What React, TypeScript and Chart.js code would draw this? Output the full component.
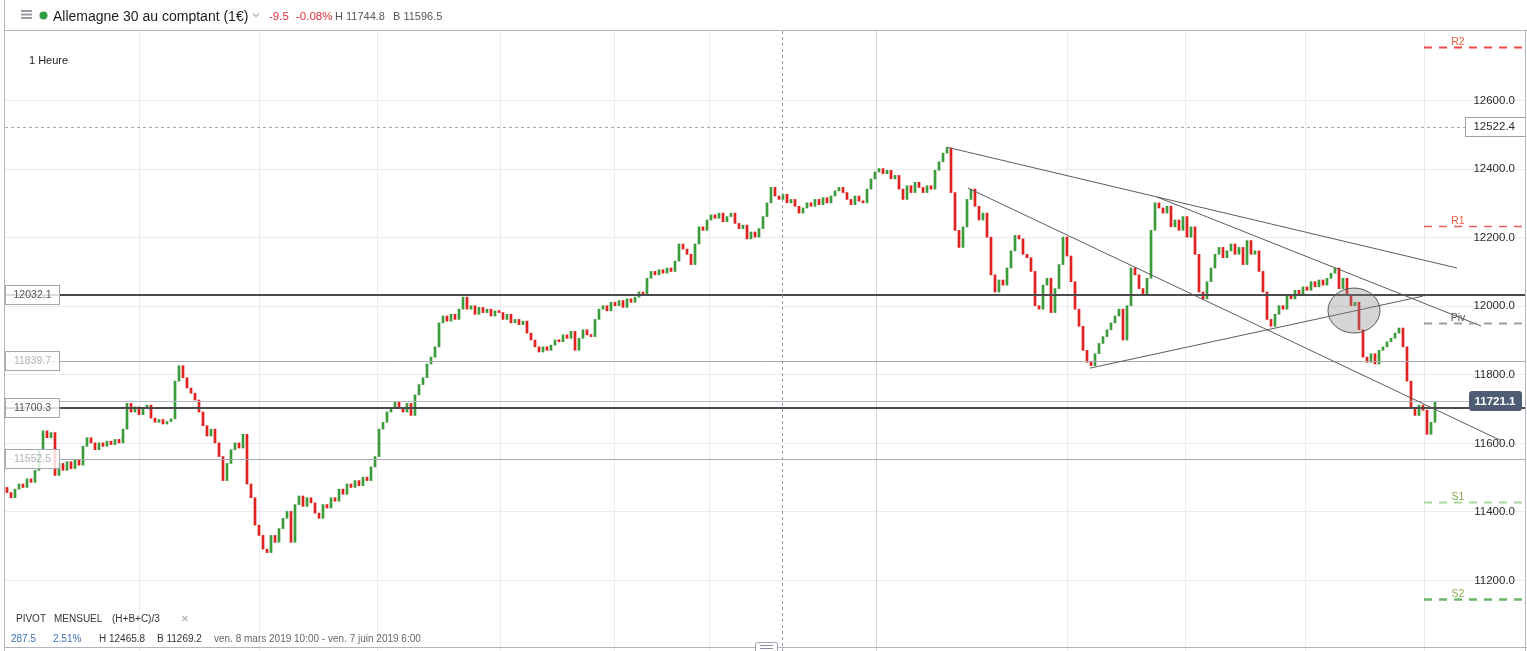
import React, { useEffect, useRef } from "react";
import { Chart, registerables } from "chart.js";

Chart.register(...registerables);

// ---------- data ----------
const firstOpen = 11470;
const closes: number[] = [
  11455, 11440, 11465, 11480, 11470, 11495, 11485, 11520, 11580, 11635,
  11615, 11630, 11505, 11540, 11520, 11545, 11525, 11550, 11535, 11590,
  11615, 11600, 11580, 11600, 11590, 11605, 11595, 11610, 11600, 11640,
  11715, 11690, 11705, 11682, 11700, 11710, 11672, 11660, 11668, 11655,
  11662, 11670, 11780, 11825, 11790, 11760, 11745, 11725, 11690, 11650,
  11620, 11640, 11600, 11560, 11490, 11540, 11580, 11600, 11585, 11625,
  11480, 11440, 11360, 11330, 11290, 11280, 11330, 11310, 11350, 11380,
  11400, 11310, 11420, 11445, 11415, 11440, 11425, 11395, 11380, 11420,
  11410, 11440, 11430, 11465, 11450, 11480, 11470, 11490, 11475, 11500,
  11490, 11530, 11560, 11640, 11660, 11690, 11700, 11720, 11700, 11690,
  11715, 11680, 11740, 11770, 11790, 11830, 11850, 11880, 11950, 11970,
  11955, 11975, 11960, 11990, 12025, 11990, 12000, 11975, 11995, 11980,
  11990, 11970, 11985, 11980, 11960, 11975, 11950, 11960, 11945, 11955,
  11920, 11900, 11880, 11865, 11880, 11870, 11885, 11900, 11895, 11915,
  11905, 11925, 11870, 11905, 11930, 11915, 11910, 11960, 11990, 12000,
  11985, 12010, 12000, 12015, 11995, 12020, 12010, 12025, 12040, 12030,
  12080, 12100, 12090, 12105, 12095, 12110, 12100, 12130, 12180, 12165,
  12150, 12120, 12180, 12230, 12220, 12250, 12265, 12255, 12270, 12245,
  12260, 12270, 12240, 12225, 12235, 12195, 12215, 12200, 12225, 12260,
  12300, 12345, 12320, 12310, 12325, 12300, 12310, 12290, 12270, 12285,
  12300, 12290, 12310, 12295, 12315, 12300, 12320, 12335, 12345, 12330,
  12310, 12295, 12320, 12305, 12300, 12340, 12370, 12390, 12400, 12385,
  12395, 12370, 12380, 12340, 12310, 12350, 12330, 12360, 12345, 12330,
  12350, 12340, 12395, 12420, 12445, 12460, 12330, 12220, 12170, 12230,
  12310, 12340, 12290, 12250, 12270, 12200, 12090, 12040, 12075, 12060,
  12110, 12160, 12205, 12195, 12150, 12140, 12100, 12000, 11990, 12060,
  12080, 11980, 12050, 12120, 12200, 12145, 12070, 11990, 11940, 11870,
  11835, 11825, 11860, 11890, 11910, 11930, 11950, 11970, 11990, 11900,
  12000, 12110, 12090, 12050, 12030, 12080, 12220, 12300, 12285, 12270,
  12290, 12230, 12250, 12220, 12260, 12200, 12230, 12150, 12040, 12020,
  12070, 12110, 12150, 12170, 12140, 12160, 12180, 12150, 12170, 12120,
  12190, 12150, 12160, 12100, 12040, 11960, 11940, 11975, 12000, 11990,
  12030, 12020, 12045, 12030, 12055, 12045, 12070, 12055, 12075, 12060,
  12080, 12095, 12110, 12050, 12080, 12030, 12000, 12010, 11930, 11850,
  11835, 11860, 11830, 11870, 11880, 11895, 11905, 11920, 11935, 11880,
  11780, 11700, 11680, 11710, 11695, 11625, 11660, 11721,
];

const priceTicks = [11200, 11400, 11600, 11800, 12000, 12200, 12400, 12600];
const timeGridIndex = [33, 63, 92.5, 123.25, 151.75, 175.5, 217.25, 265, 294.5, 324.5, 354.25];
const monthBoundaryIndex = 217.25;
const crosshairIndex = 193.75;

const levelValues = [12032.1, 11839.7, 11700.3, 11552.5];
const levelMajor = [true, false, true, false];
const lastPrice = 11721.1;
const markedPrice = 12522.4;

const pivotLabels = ["R2", "R1", "Piv", "S1", "S2"];
const pivotValues = [12755, 12233, 11950, 11428, 11145];
const pivotStartIndex = 354.25;

const trendStarts = [[234.75, 12463], [240.25, 12343], [287.5, 12317], [270.75, 11818]];
const trendEnds = [[362.5, 12110], [373.25, 11608], [368.5, 11941], [354, 12028]];

const ellipseCenter = [336.75, 11986];
const ellipseHalf = [6.5, 65.6];

const xMin = -0.5;
const xMax = 379.75;
const yMin = 11004.6;
const yMax = 12801.25;

// ---------- styles ----------
const GREEN = "#3b9c3b";
const RED = "#e3211f";
const FONT = '"Liberation Sans", Arial, sans-serif';
const pivotStyles = [
  { color: "#ee4a4a", width: 2, label: "#ef5f3f" },
  { color: "#f06262", width: 1.3, label: "#ef5f3f" },
  { color: "#9e9e9e", width: 2, label: "#555555" },
  { color: "#a9d8a1", width: 2, label: "#86a84c" },
  { color: "#6cb86c", width: 2.5, label: "#86a84c" },
];

const opens = closes.map((c, i) => (i === 0 ? firstOpen : closes[i - 1]));

const overlayPlugin = {
  id: "overlay",
  beforeDraw(chart: any) {
    const ctx = chart.ctx;
    ctx.save();
    ctx.fillStyle = "#ffffff";
    ctx.fillRect(0, 0, chart.width, chart.height);
    ctx.restore();
  },
  beforeDatasetsDraw(chart: any) {
    const { ctx, chartArea: a, scales } = chart;
    const xs = scales.x;
    const ys = scales.y;
    ctx.save();
    ctx.lineWidth = 1;
    priceTicks.forEach((v) => {
      const py = Math.round(ys.getPixelForValue(v)) + 0.5;
      ctx.strokeStyle = "#ebebef";
      ctx.beginPath();
      ctx.moveTo(a.left, py);
      ctx.lineTo(a.right, py);
      ctx.stroke();
    });
    timeGridIndex.forEach((t) => {
      const px = Math.round(xs.getPixelForValue(t)) + 0.5;
      ctx.strokeStyle = t === monthBoundaryIndex ? "#d3d3da" : "#ebebef";
      ctx.beginPath();
      ctx.moveTo(px, a.top);
      ctx.lineTo(px, chart.height);
      ctx.stroke();
    });
    ctx.restore();
  },
  afterDatasetsDraw(chart: any) {
    const { ctx, chartArea: a, scales } = chart;
    const xs = scales.x;
    const ys = scales.y;
    const W = chart.width;
    ctx.save();

    // horizontal level lines
    levelValues.forEach((v, i) => {
      const major = levelMajor[i];
      const py = major ? Math.round(ys.getPixelForValue(v)) : Math.round(ys.getPixelForValue(v)) + 0.5;
      ctx.strokeStyle = major ? "#4b4b4b" : "#a9a9b3";
      ctx.lineWidth = major ? 2 : 1;
      ctx.beginPath();
      ctx.moveTo(a.left, py);
      ctx.lineTo(a.right, py);
      ctx.stroke();
    });

    // last price line
    {
      const py = Math.round(ys.getPixelForValue(lastPrice)) + 0.5;
      ctx.strokeStyle = "#b2bac8";
      ctx.lineWidth = 1;
      ctx.beginPath();
      ctx.moveTo(a.left, py);
      ctx.lineTo(1469, py);
      ctx.stroke();
    }

    // marked price dotted line
    {
      const py = Math.round(ys.getPixelForValue(markedPrice)) + 0.5;
      ctx.strokeStyle = "#a6a6b6";
      ctx.lineWidth = 1;
      ctx.setLineDash([3, 3]);
      ctx.beginPath();
      ctx.moveTo(a.left, py);
      ctx.lineTo(1465, py);
      ctx.stroke();
      ctx.setLineDash([]);
    }

    // trendlines
    ctx.strokeStyle = "#5c5c5c";
    ctx.lineWidth = 1;
    trendStarts.forEach((s, i) => {
      const e = trendEnds[i];
      ctx.beginPath();
      ctx.moveTo(xs.getPixelForValue(s[0]), ys.getPixelForValue(s[1]));
      ctx.lineTo(xs.getPixelForValue(e[0]), ys.getPixelForValue(e[1]));
      ctx.stroke();
    });

    // ellipse
    {
      const cx = xs.getPixelForValue(ellipseCenter[0]);
      const cy = ys.getPixelForValue(ellipseCenter[1]);
      const rx = Math.abs(xs.getPixelForValue(ellipseCenter[0] + ellipseHalf[0]) - cx);
      const ry = Math.abs(ys.getPixelForValue(ellipseCenter[1] + ellipseHalf[1]) - cy);
      ctx.beginPath();
      ctx.ellipse(cx, cy, rx, ry, 0, 0, Math.PI * 2);
      ctx.fillStyle = "rgba(135,135,135,0.35)";
      ctx.fill();
      ctx.strokeStyle = "#5a5a5a";
      ctx.lineWidth = 1;
      ctx.stroke();
    }

    // crosshair
    {
      const px = Math.round(xs.getPixelForValue(crosshairIndex)) + 0.5;
      ctx.strokeStyle = "#9a9aac";
      ctx.lineWidth = 1;
      ctx.setLineDash([3, 3]);
      ctx.beginPath();
      ctx.moveTo(px, a.top);
      ctx.lineTo(px, chart.height);
      ctx.stroke();
      ctx.setLineDash([]);
    }

    // pivot lines
    const pStart = xs.getPixelForValue(pivotStartIndex);
    pivotValues.forEach((v, i) => {
      const st = pivotStyles[i];
      const py = Math.round(ys.getPixelForValue(v)) + 0.5;
      ctx.strokeStyle = st.color;
      ctx.lineWidth = st.width;
      ctx.setLineDash([8, 7]);
      ctx.beginPath();
      ctx.moveTo(pStart, py);
      ctx.lineTo(W, py);
      ctx.stroke();
      ctx.setLineDash([]);
      ctx.fillStyle = st.label;
      ctx.font = `10.5px ${FONT}`;
      ctx.textAlign = "center";
      ctx.textBaseline = "alphabetic";
      ctx.fillText(pivotLabels[i], pStart + 34, py - 3);
    });

    // price axis labels
    ctx.font = `11.5px ${FONT}`;
    ctx.textAlign = "right";
    ctx.textBaseline = "middle";
    ctx.fillStyle = "#2b2b2b";
    priceTicks.forEach((v) => {
      ctx.fillText(v.toFixed(1), 1515, ys.getPixelForValue(v) + 0.5);
    });

    // marked price box
    {
      const py = ys.getPixelForValue(markedPrice);
      ctx.fillStyle = "#ffffff";
      ctx.fillRect(1465.5, Math.round(py) - 9.5, 60, 19);
      ctx.strokeStyle = "#a0a0aa";
      ctx.lineWidth = 1;
      ctx.strokeRect(1465.5, Math.round(py) - 9.5, 60, 19);
      ctx.fillStyle = "#2b2b2b";
      ctx.fillText(markedPrice.toFixed(1), 1515, py + 0.5);
    }

    // last price box
    {
      const py = ys.getPixelForValue(lastPrice);
      ctx.fillStyle = "#4e5d74";
      ctx.beginPath();
      (ctx as any).roundRect(1469, Math.round(py) - 10, 53, 20, 3);
      ctx.fill();
      ctx.fillStyle = "#ffffff";
      ctx.font = `bold 11.5px ${FONT}`;
      ctx.textAlign = "center";
      ctx.fillText(lastPrice.toFixed(1), 1495, py + 0.5);
    }

    // left level boxes
    levelValues.forEach((v, i) => {
      const py = Math.round(ys.getPixelForValue(v));
      ctx.fillStyle = "rgba(255,255,255,0.82)";
      ctx.fillRect(5.5, py - 9.5, 54, 19);
      ctx.strokeStyle = "#a6a6b0";
      ctx.lineWidth = 1;
      ctx.strokeRect(5.5, py - 9.5, 54, 19);
      ctx.fillStyle = levelMajor[i] ? "#555555" : "#b3b3bb";
      ctx.font = `10.5px ${FONT}`;
      ctx.textAlign = "center";
      ctx.textBaseline = "middle";
      ctx.fillText(v.toFixed(1), 32.5, py + 0.5);
    });

    ctx.restore();
  },
  afterDraw(chart: any) {
    const { ctx, chartArea: a } = chart;
    const W = chart.width;
    const H = chart.height;
    ctx.save();
    // frame
    ctx.strokeStyle = "#b4b4bd";
    ctx.lineWidth = 1;
    ctx.beginPath();
    ctx.moveTo(4, 30.5);
    ctx.lineTo(W, 30.5);
    ctx.moveTo(4.5, 0);
    ctx.lineTo(4.5, H);
    ctx.moveTo(4, a.bottom + 0.5);
    ctx.lineTo(W, a.bottom + 0.5);
    ctx.moveTo(a.right - 0.5, 31);
    ctx.lineTo(a.right - 0.5, H);
    ctx.stroke();

    // header icons
    ctx.fillStyle = "#9b9ba5";
    ctx.fillRect(21, 10, 11, 2);
    ctx.fillRect(21, 13.5, 11, 2);
    ctx.fillRect(21, 17, 11, 2);
    ctx.fillStyle = "#2f9e44";
    ctx.beginPath();
    ctx.arc(43.5, 15.5, 4, 0, Math.PI * 2);
    ctx.fill();
    ctx.strokeStyle = "#b5b5be";
    ctx.lineWidth = 1.3;
    ctx.beginPath();
    ctx.moveTo(253, 13.5);
    ctx.lineTo(256, 16.5);
    ctx.lineTo(259, 13.5);
    ctx.stroke();

    // bottom handle
    ctx.fillStyle = "#ffffff";
    ctx.strokeStyle = "#a0a0ac";
    ctx.lineWidth = 1;
    ctx.beginPath();
    (ctx as any).roundRect(755.5, 642.5, 22, 12, 2);
    ctx.fill();
    ctx.stroke();
    ctx.strokeStyle = "#8a8aa2";
    ctx.beginPath();
    ctx.moveTo(760, 645.5);
    ctx.lineTo(773, 645.5);
    ctx.moveTo(760, 648.5);
    ctx.lineTo(773, 648.5);
    ctx.stroke();
    ctx.restore();
  },
};

function Txt(props: { x: number; y: number; size: number; color: string; weight?: number; children: any }) {
  const lh = Math.round(props.size * 1.6);
  return (
    <div
      style={{
        position: "absolute",
        left: props.x,
        top: props.y - lh / 2,
        height: lh,
        lineHeight: `${lh}px`,
        fontSize: props.size,
        color: props.color,
        fontWeight: props.weight ?? 400,
        whiteSpace: "nowrap",
        fontFamily: FONT,
      }}
    >
      {props.children}
    </div>
  );
}

export default function App() {
  const ref = useRef<HTMLCanvasElement>(null);

  useEffect(() => {
    const canvas = ref.current;
    if (!canvas) return;
    const chart = new Chart(canvas, {
      type: "bar",
      data: {
        datasets: [
          {
            data: closes.map((c, i) => ({ x: i, y: [opens[i], c] })) as any,
            backgroundColor: closes.map((c, i) => (c >= opens[i] ? GREEN : RED)),
            borderWidth: 0,
            barThickness: 2,
            minBarLength: 2,
            grouped: false,
          } as any,
        ],
      },
      options: {
        responsive: false,
        animation: false,
        devicePixelRatio: 1,
        events: [],
        layout: { padding: { left: 5, right: 1, top: 31, bottom: 4 } },
        plugins: { legend: { display: false }, tooltip: { enabled: false }, title: { display: false } },
        scales: {
          x: { type: "linear", min: xMin, max: xMax, offset: false, display: false },
          y: { type: "linear", min: yMin, max: yMax, display: false },
        },
      },
      plugins: [overlayPlugin],
    });
    return () => chart.destroy();
  }, []);

  return (
    <div style={{ position: "absolute", left: 0, top: 0, width: 1527, height: 651, overflow: "hidden", background: "#fff" }}>
      <canvas ref={ref} width={1527} height={651} style={{ position: "absolute", left: 0, top: 0, width: 1527, height: 651 }} />
      <Txt x={53} y={15.5} size={14} color="#1d1d1d">Allemagne 30 au comptant (1€)</Txt>
      <Txt x={269} y={15.5} size={11.5} color="#e0303a">-9.5</Txt>
      <Txt x={296} y={15.5} size={11.5} color="#e0303a">-0.08%</Txt>
      <Txt x={335} y={15.5} size={11} color="#555">H 11744.8</Txt>
      <Txt x={393} y={15.5} size={11} color="#555">B 11596.5</Txt>
      <Txt x={29} y={60} size={11} color="#222">1 Heure</Txt>
      <Txt x={16} y={619} size={10} color="#333">PIVOT</Txt>
      <Txt x={54} y={619} size={10} color="#333">MENSUEL</Txt>
      <Txt x={112} y={619} size={10} color="#333">(H+B+C)/3</Txt>
      <Txt x={181} y={618.5} size={13} color="#a0a0a8">×</Txt>
      <Txt x={11} y={639} size={10} color="#3d72b4">287.5</Txt>
      <Txt x={53} y={639} size={10} color="#3d72b4">2.51%</Txt>
      <Txt x={99} y={639} size={10} color="#333">H 12465.8</Txt>
      <Txt x={157} y={639} size={10} color="#333">B 11269.2</Txt>
      <Txt x={214} y={639} size={10} color="#666">ven. 8 mars 2019 10:00 - ven. 7 juin 2019 6:00</Txt>
    </div>
  );
}
